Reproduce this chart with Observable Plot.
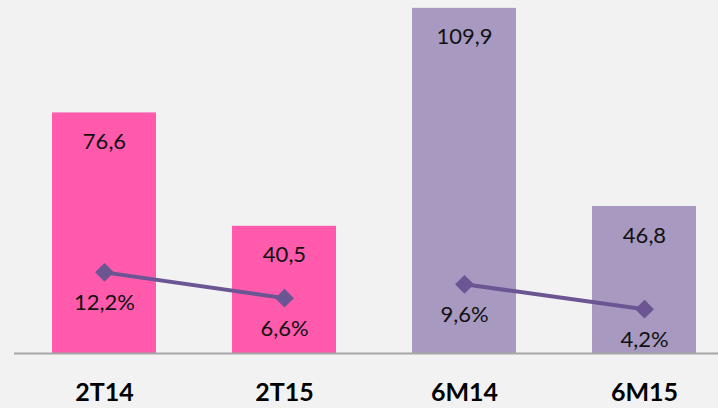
<!DOCTYPE html>
<html>
<head>
<meta charset="utf-8">
<script src="https://cdn.jsdelivr.net/npm/d3@7"></script>
<script src="https://cdn.jsdelivr.net/npm/@observablehq/plot@0.6"></script>
<style>
  html, body { margin: 0; padding: 0; background: #f2f2f2; }
  #chart svg { display: block; background: #f2f2f2; }
</style>
</head>
<body>
<div id="chart"></div>
<script>
const categories = ["2T14", "2T15", "6M14", "6M15"];
const values = [76.6, 40.5, 109.9, 46.8];
const valueLabels = ["76,6", "40,5", "109,9", "46,8"];
const margins = [12.2, 6.6, 9.6, 4.2];
const marginLabels = ["12,2%", "6,6%", "9,6%", "4,2%"];
const groups = ["2T", "2T", "6M", "6M"];

const colorPink = "#ff5aac";
const colorPurple = "#a899c0";
const lineColor = "#6b5693";

const data = categories.map((c, i) => ({
  cat: c, value: values[i], vLabel: valueLabels[i],
  pct: margins[i], pLabel: marginLabels[i], group: groups[i]
}));

// secondary (percentage) axis expressed in primary-axis units
const pctToY = d3.scaleLinear().domain([0, 10]).range([7.96, 22.61]);

const font = "Lato, 'Open Sans', sans-serif";

const chart = Plot.plot({
  width: 718,
  height: 408,
  marginLeft: 14,
  marginRight: 0,
  marginTop: 0,
  marginBottom: 55,
  style: { background: "#f2f2f2", fontFamily: font },
  x: { domain: categories, range: [14, 734], paddingInner: 0.422, paddingOuter: 0.211, axis: null, label: null },
  y: { domain: [0, 112.4], range: [353, 0], axis: null },
  marks: [
    Plot.barY(data, { x: "cat", y: "value", fill: d => d.group === "2T" ? colorPink : colorPurple }),
    Plot.ruleY([0], { stroke: "#a6a6a6", strokeWidth: 2 }),
    Plot.text(data, { x: "cat", y: "value", text: "vLabel", dy: 29, fontSize: 22, fill: "#111", fontFamily: font }),
    Plot.line(data, { x: "cat", y: d => pctToY(d.pct), z: "group", stroke: lineColor, strokeWidth: 4 }),
    Plot.dot(data, { x: "cat", y: d => pctToY(d.pct), symbol: "diamond2", r: 8.5, fill: lineColor, stroke: null }),
    Plot.text(data, { x: "cat", y: d => pctToY(d.pct), text: "pLabel", dy: 31, fontSize: 22, fill: "#111", fontFamily: font }),
    Plot.axisX({ tickSize: 0, tickPadding: 30, fontSize: 25, fontWeight: "bold", fill: "#000", fontFamily: font, label: null })
  ]
});
document.getElementById("chart").appendChild(chart);
</script>
</body>
</html>
